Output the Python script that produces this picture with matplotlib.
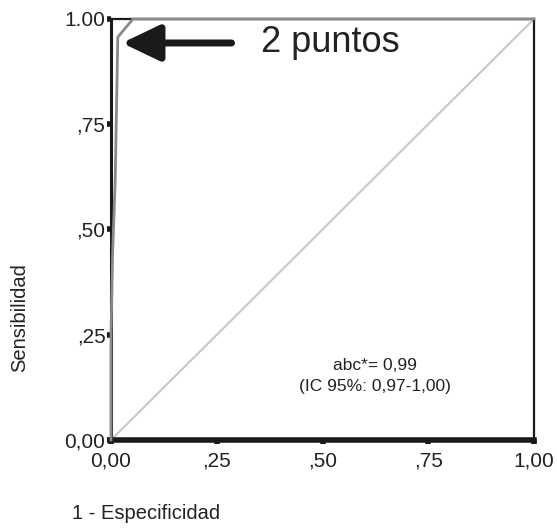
import matplotlib
matplotlib.use("Agg")
import matplotlib.pyplot as plt

plt.rcParams['font.family'] = ['Liberation Sans', 'DejaVu Sans']

# ROC curve points (1 - especificidad, sensibilidad)
fpr = [0.0, 0.0, 0.004, 0.010, 0.016, 0.052, 1.0]
tpr = [0.0, 0.25, 0.45, 0.62, 0.957, 1.0, 1.0]

tick_vals = [0.0, 0.25, 0.5, 0.75, 1.0]
x_tick_labels = ["0,00", ",25", ",50", ",75", "1,00"]
y_tick_labels = ["0,00", ",25", ",50", ",75", "1.00"]

auc_text = "abc*= 0,99\n(IC 95%: 0,97-1,00)"
arrow_label = "2 puntos"

fig = plt.figure(figsize=(5.57, 5.30), dpi=100)
ax = fig.add_axes([0.1993, 0.1698, 0.7594, 0.7944])

ax.plot([0, 1], [0, 1], color="#c8c8c8", lw=1.5, zorder=1)
ax.plot(fpr, tpr, color="#8a8a8a", lw=2, clip_on=False, zorder=3)

ax.set_xlim(0, 1)
ax.set_ylim(0, 1)
ax.set_xticks(tick_vals)
ax.set_xticklabels(x_tick_labels)
ax.set_yticks(tick_vals)
ax.set_yticklabels(y_tick_labels)
ax.tick_params(axis="both", direction="out", length=3, width=4, color="#1a1a1a",
               labelsize=15, labelcolor="#222222")
ax.tick_params(axis="x", pad=5)
ax.tick_params(axis="y", pad=1)

for side in ["left", "right", "top"]:
    ax.spines[side].set_color("#1a1a1a")
ax.spines["left"].set_linewidth(2.2)
ax.spines["right"].set_linewidth(1.6)
ax.spines["top"].set_linewidth(1.6)
ax.spines["bottom"].set_linewidth(4)
ax.spines["bottom"].set_color("#1a1a1a")

# arrow pointing to the ROC corner
ax.annotate("", xy=(0.026, 0.943), xytext=(0.285, 0.943),
            arrowprops=dict(arrowstyle="-|>,head_length=2.3,head_width=1.1",
                            color="#1a1a1a", lw=5, shrinkA=0, shrinkB=0))
ax.text(0.355, 0.943, arrow_label, fontsize=26, color="#222222", va="center", ha="left")

ax.text(0.625, 0.152, auc_text, fontsize=12.5, color="#222222", ha="center", va="center",
        linespacing=1.45)

fig.text(0.036, 0.40, "Sensibilidad", rotation=90, fontsize=14.5, color="#222222",
         ha="center", va="center")
fig.text(0.13, 0.032, "1 - Especificidad", fontsize=14.5, color="#222222",
         ha="left", va="center")

fig.savefig("out.png", dpi=100)
